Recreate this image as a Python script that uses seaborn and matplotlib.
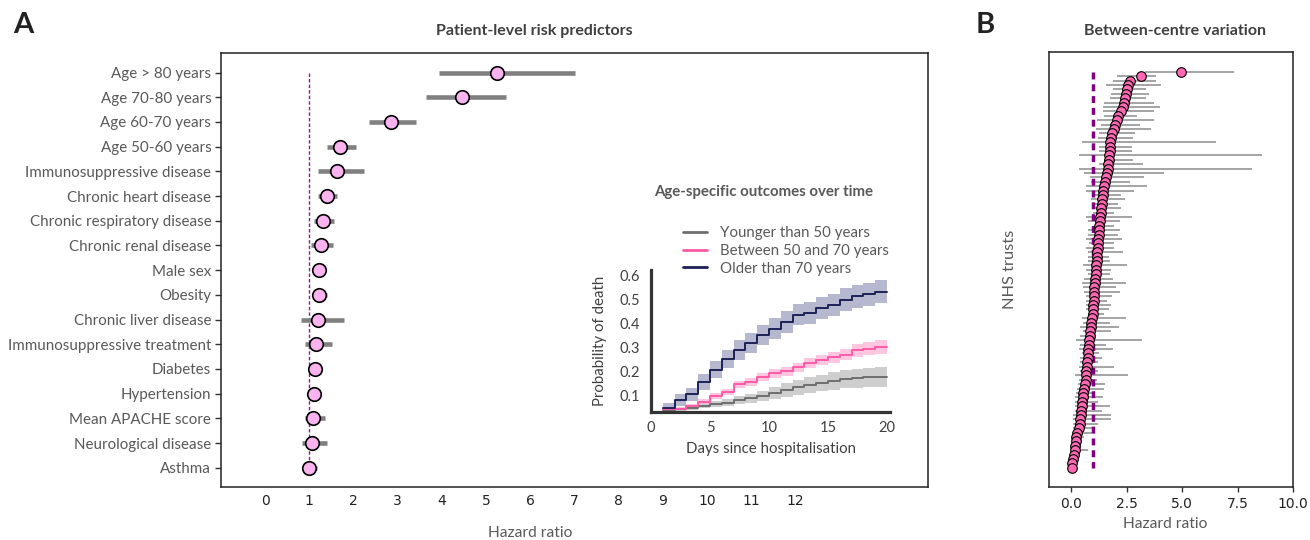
import numpy as np
import matplotlib
matplotlib.use("Agg")
import matplotlib.pyplot as plt
import seaborn as sns

# ---------------- Panel A data ----------------
predictors = ["Age > 80 years", "Age 70-80 years", "Age 60-70 years", "Age 50-60 years",
              "Immunosuppressive disease", "Chronic heart disease", "Chronic respiratory disease",
              "Chronic renal disease", "Male sex", "Obesity", "Chronic liver disease",
              "Immunosuppressive treatment", "Diabetes", "Hypertension", "Mean APACHE score",
              "Neurological disease", "Asthma"]
hr_a = [5.25, 4.45, 2.84, 1.70, 1.63, 1.39, 1.31, 1.26, 1.21, 1.21, 1.19, 1.16, 1.13, 1.11, 1.09, 1.07, 0.99]
lo_a = [3.94, 3.64, 2.36, 1.41, 1.20, 1.19, 1.11, 1.04, 1.13, 1.10, 0.81, 0.90, 1.05, 1.03, 0.89, 0.83, 0.88]
hi_a = [7.00, 5.44, 3.41, 2.06, 2.23, 1.63, 1.55, 1.53, 1.30, 1.40, 1.78, 1.52, 1.22, 1.20, 1.35, 1.41, 1.17]
xticks_a = [0, 1, 2, 3, 4, 5, 6, 7, 8, 9, 10, 11, 12]

# ---------------- Inset data ----------------
days = [1, 2, 3, 4, 5, 6, 7, 8, 9, 10, 11, 12, 13, 14, 15, 16, 17, 18, 19]
end_day = 20
old = [0.047, 0.079, 0.103, 0.156, 0.207, 0.251, 0.288, 0.320, 0.351, 0.379, 0.407, 0.438, 0.444, 0.465, 0.477, 0.500, 0.514, 0.523, 0.534]
old_lo = [0.030, 0.055, 0.075, 0.122, 0.170, 0.212, 0.247, 0.278, 0.308, 0.335, 0.362, 0.392, 0.398, 0.418, 0.430, 0.452, 0.466, 0.475, 0.486]
old_hi = [0.065, 0.103, 0.131, 0.190, 0.244, 0.290, 0.329, 0.362, 0.394, 0.423, 0.452, 0.484, 0.490, 0.512, 0.524, 0.548, 0.562, 0.571, 0.582]
mid = [0.040, 0.043, 0.055, 0.072, 0.097, 0.114, 0.146, 0.156, 0.174, 0.191, 0.200, 0.216, 0.233, 0.246, 0.258, 0.270, 0.288, 0.295, 0.302]
mid_lo = [0.035, 0.037, 0.047, 0.062, 0.085, 0.101, 0.131, 0.140, 0.157, 0.173, 0.181, 0.196, 0.212, 0.224, 0.234, 0.245, 0.261, 0.267, 0.272]
mid_hi = [0.045, 0.049, 0.063, 0.082, 0.109, 0.127, 0.161, 0.172, 0.191, 0.209, 0.219, 0.236, 0.254, 0.268, 0.282, 0.295, 0.315, 0.323, 0.332]
young = [0.037, 0.040, 0.047, 0.055, 0.062, 0.068, 0.079, 0.086, 0.096, 0.107, 0.121, 0.132, 0.142, 0.151, 0.159, 0.166, 0.170, 0.174, 0.174]
young_lo = [0.033, 0.034, 0.039, 0.045, 0.049, 0.053, 0.061, 0.066, 0.074, 0.082, 0.093, 0.102, 0.110, 0.117, 0.123, 0.128, 0.130, 0.133, 0.132]
young_hi = [0.041, 0.046, 0.055, 0.065, 0.075, 0.083, 0.097, 0.106, 0.118, 0.132, 0.149, 0.162, 0.174, 0.185, 0.195, 0.204, 0.210, 0.215, 0.216]
group_labels = ["Younger than 50 years", "Between 50 and 70 years", "Older than 70 years"]

# ---------------- Panel B data ----------------
hr_b = [4.93, 3.16, 2.63, 2.57, 2.52, 2.48, 2.43, 2.38, 2.33, 2.24,
        2.13, 2.06, 1.99, 1.93, 1.86, 1.80, 1.77, 1.75, 1.73, 1.71,
        1.69, 1.67, 1.65, 1.61, 1.57, 1.53, 1.49, 1.45, 1.42, 1.40,
        1.37, 1.35, 1.33, 1.31, 1.29, 1.27, 1.26, 1.24, 1.22, 1.21,
        1.19, 1.18, 1.16, 1.15, 1.13, 1.11, 1.10, 1.08, 1.07, 1.05,
        1.04, 1.03, 1.01, 1.00, 0.99, 0.97, 0.94, 0.91, 0.88, 0.86,
        0.84, 0.81, 0.79, 0.77, 0.76, 0.74, 0.72, 0.71, 0.69, 0.67,
        0.65, 0.62, 0.59, 0.55, 0.52, 0.50, 0.48, 0.46, 0.44, 0.42,
        0.40, 0.36, 0.24, 0.22, 0.21, 0.19, 0.17, 0.12, 0.08, 0.05, 0.03]
lo_b = [3.32, 2.08, 1.88, 1.58, 1.88, 1.81, 1.73, 1.47, 1.43, 1.43,
        1.50, 1.17, 1.35, 1.10, 1.25, 1.20, 0.49, 1.26, 1.26, 0.34,
        1.50, 1.26, 0.34, 0.60, 0.83, 0.91, 0.68, 0.68, 1.05, 0.91,
        1.00, 1.08, 1.00, 0.65, 0.78, 1.08, 0.74, 0.78, 0.65, 0.80,
        0.68, 0.78, 0.78, 0.74, 0.55, 0.68, 0.74, 0.60, 0.50, 0.52,
        0.60, 0.69, 0.69, 0.69, 0.69, 0.77, 0.48, 0.52, 0.38, 0.52,
        0.38, 0.23, 0.38, 0.35, 0.50, 0.40, 0.38, 0.35, 0.40, 0.19,
        0.35, 0.30, 0.27, 0.22, 0.19, 0.19, 0.15, 0.15, 0.10, 0.08,
        0.10, 0.08, 0.07, 0.12, 0.07, 0.07, 0.05, 0.03, 0.02, 0.01, 0.01]
hi_b = [7.34, 3.84, 3.81, 4.07, 3.39, 3.49, 3.39, 3.73, 3.99, 3.73,
        2.98, 3.73, 3.08, 3.58, 2.88, 2.78, 6.55, 2.74, 2.74, 8.61,
        2.78, 3.23, 8.13, 4.17, 3.28, 2.64, 3.42, 2.84, 2.26, 2.42,
        2.10, 2.24, 1.95, 2.72, 2.22, 1.94, 2.19, 2.10, 2.30, 1.95,
        1.92, 2.35, 1.70, 1.77, 2.52, 1.80, 1.77, 1.90, 2.48, 2.00,
        2.20, 1.86, 1.60, 1.80, 1.70, 1.50, 2.45, 1.75, 2.15, 1.80,
        1.08, 3.20, 1.55, 1.90, 1.25, 1.40, 1.20, 1.95, 1.20, 2.55,
        1.15, 1.53, 1.47, 1.05, 1.42, 1.20, 1.73, 1.38, 1.80, 1.80,
        1.20, 1.02, 0.95, 0.60, 0.50, 0.45, 0.75, 0.35, 0.25, 0.18, 0.10]
xticks_b = [0.0, 2.5, 5.0, 7.5, 10.0]

# ---------------- styling ----------------
sns.set_theme(style="white")
plt.rcParams["font.family"] = ["Lato", "DejaVu Sans"]
GREY_TXT = "#595959"

W, H = 1310, 540
fig = plt.figure(figsize=(W / 100, H / 100), dpi=100)
fig.patch.set_facecolor("white")


def fx(px):
    return px / W


def fy(py):
    return 1 - py / H


# ---------------- Panel A ----------------
axA = fig.add_axes([fx(221), fy(487), fx(928 - 221), (487 - 53) / H])
ypos = np.arange(len(predictors))
axA.hlines(ypos, lo_a, hi_a, color="#808080", lw=3.3, zorder=2)
axA.vlines(1, ypos[0], ypos[-1], color="#8B1A8B", lw=1.0, linestyles=(0, (2.5, 1.5)), zorder=1)
sns.scatterplot(x=hr_a, y=ypos, ax=axA, s=95, color="#f9b3ef", edgecolor="black",
                linewidth=1.2, zorder=3, legend=False)
axA.set_xlim(-1, 15)
axA.set_ylim(16.78, -0.79)
axA.set_yticks(ypos)
axA.set_yticklabels(predictors, fontsize=10.9, color=GREY_TXT)
axA.set_xticks(xticks_a)
axA.set_xticklabels([str(t) for t in xticks_a], fontsize=10, family="DejaVu Sans", color="#222222")
axA.tick_params(axis="y", length=4, width=1, color="#333333", left=True, pad=3)
axA.tick_params(axis="x", length=0, pad=5)
for s in axA.spines.values():
    s.set_color("#222222")
    s.set_linewidth(1.1)
axA.set_xlabel("Hazard ratio", fontsize=11.2, color=GREY_TXT)
axA.xaxis.set_label_coords(0.4375, -(526 - 487) / 434)
axA.set_ylabel("")
fig.text(fx(534), fy(31), "Patient-level risk predictors", ha="center", va="center",
         fontsize=11.5, weight="bold", color="#404040")

# ---------------- Inset ----------------
axI = fig.add_axes([fx(651), fy(411.7), fx(890 - 651), (411.7 - 270) / H])
axI.patch.set_alpha(0)
series = [(young, young_lo, young_hi, "#6e6e6e", "#c9c9c9", 0.9),
          (mid, mid_lo, mid_hi, "#ff5aa8", "#ffb3d6", 0.75),
          (old, old_lo, old_hi, "#1c2157", "#8e93b5", 0.65)]
xs = days + [end_day]
for (v, lo, hi, lc, fc, al), lab in zip(series, group_labels):
    axI.fill_between(xs, lo + [lo[-1]], hi + [hi[-1]], step="post", color=fc, alpha=al, lw=0)
    sns.lineplot(x=xs, y=v + [v[-1]], ax=axI, drawstyle="steps-post", color=lc, lw=1.4,
                 label=lab, estimator=None)
axI.set_xlim(0, 20.25)
axI.set_ylim(0.03, 0.625)
axI.set_xticks([0, 5, 10, 15, 20])
axI.set_yticks([0.1, 0.2, 0.3, 0.4, 0.5, 0.6])
axI.set_yticklabels(["0.1", "0.2", "0.3", "0.4", "0.5", "0.6"])
axI.tick_params(length=0, labelsize=10.5, colors="#404040")
axI.tick_params(axis="y", pad=8)
axI.tick_params(axis="x", pad=7)
for k in ["top", "right"]:
    axI.spines[k].set_visible(False)
for k in ["left", "bottom"]:
    axI.spines[k].set_color("#333333")
    axI.spines[k].set_linewidth(2.3)
axI.set_xlabel("Days since hospitalisation", fontsize=10.8, color="#404040")
axI.xaxis.set_label_coords(0.5, -(442 - 411.7) / 141.7)
axI.set_ylabel("Probability of death", fontsize=10.8, color="#404040")
axI.yaxis.set_label_coords(-(651 - 607) / 239, 0.5)
leg = axI.legend(loc="upper left", bbox_to_anchor=(fx(683), fy(226)), bbox_transform=fig.transFigure,
                 frameon=False, fontsize=10.8, handlelength=1.6, handletextpad=0.85,
                 labelspacing=0.25, borderpad=0, borderaxespad=0)
for t in leg.get_texts():
    t.set_color(GREY_TXT)
for ln in leg.get_lines():
    ln.set_linewidth(2.0)
fig.text(fx(764), fy(192), "Age-specific outcomes over time", ha="center", va="center",
         fontsize=10.8, weight="bold", color=GREY_TXT)

# ---------------- Panel B ----------------
axB = fig.add_axes([fx(1049), fy(486.7), fx(1293 - 1049), (486.7 - 51.7) / H])
rows = np.arange(len(hr_b))
axB.hlines(rows, lo_b, hi_b, color="#8c8c8c", lw=1.1, zorder=1)
axB.vlines(1, rows[0], rows[-1], color="#800080", lw=2.5, linestyles=(0, (2, 1.4)), zorder=2)
sns.scatterplot(x=hr_b, y=rows, ax=axB, s=48, color="#ff69b4", edgecolor="black",
                linewidth=0.8, zorder=3, legend=False)
axB.set_xlim(-1, 10)
axB.set_ylim(94.3, -4.55)
axB.set_yticks([])
axB.set_xticks(xticks_b)
axB.set_xticklabels([f"{t:.1f}" for t in xticks_b], fontsize=10, family="DejaVu Sans", color="#222222")
axB.tick_params(axis="x", length=3.5, width=1, color="#333333", bottom=True, pad=4)
for s in axB.spines.values():
    s.set_color("#222222")
    s.set_linewidth(1.1)
axB.set_xlabel("Hazard ratio", fontsize=11.2, color=GREY_TXT)
axB.xaxis.set_label_coords((1165 - 1049) / 244, -(517 - 486.7) / 435)
axB.set_ylabel("NHS trusts", fontsize=11.8, color=GREY_TXT)
axB.yaxis.set_label_coords(-(1049 - 1017) / 244, 0.5)
fig.text(fx(1175), fy(31), "Between-centre variation", ha="center", va="center",
         fontsize=11.5, weight="bold", color="#404040")

# panel letters
fig.text(fx(23), fy(25), "A", ha="center", va="center", fontsize=21, weight="bold", color="#222222")
fig.text(fx(985), fy(25), "B", ha="center", va="center", fontsize=21, weight="bold", color="#222222")

fig.savefig("out.png", dpi=100, facecolor="white")
